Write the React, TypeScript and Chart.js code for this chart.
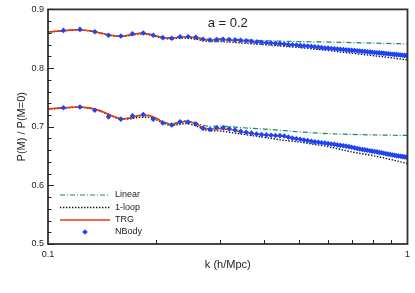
import { useEffect, useRef } from "react";
import { Chart, registerables } from "chart.js";

Chart.register(...registerables);

const FONT = "'Liberation Sans', Arial, sans-serif";
const TEXT = "#222222";

const TITLE = "a = 0.2";
const X_LABEL = "k (h/Mpc)";
const Y_LABEL = "P(M) / P(M=0)";

const X_TICKS = [0.1, 1];
const X_MINOR = [0.2, 0.3, 0.4, 0.5, 0.6, 0.7, 0.8, 0.9];
const Y_TICKS = [0.5, 0.6, 0.7, 0.8, 0.9];
const Y_MINOR = [0.52, 0.54, 0.56, 0.58, 0.62, 0.64, 0.66, 0.68, 0.72, 0.74, 0.76, 0.78, 0.82, 0.84, 0.86, 0.88];

// wavenumbers for the theory curves
const K_LINE = [0.10, 0.11, 0.12, 0.13, 0.14, 0.15, 0.16, 0.17, 0.18, 0.19, 0.20, 0.21, 0.22, 0.23, 0.24, 0.25, 0.26, 0.27, 0.28, 0.29, 0.30, 0.32, 0.35, 0.40, 0.45, 0.50, 0.55, 0.60, 0.70, 0.80, 0.90, 1.00];

// upper family
const LINEAR_HI = [0.8615, 0.8637, 0.8652, 0.8638, 0.8598, 0.8558, 0.8543, 0.8567, 0.8592, 0.8584, 0.8550, 0.8520, 0.8515, 0.8530, 0.8538, 0.8535, 0.8522, 0.8505, 0.8495, 0.8495, 0.8500, 0.8495, 0.8482, 0.8467, 0.8458, 0.8452, 0.8447, 0.8443, 0.8434, 0.8425, 0.8418, 0.8412];
const ONELOOP_HI = [0.8612, 0.8634, 0.8648, 0.8633, 0.8593, 0.8553, 0.8537, 0.8558, 0.8580, 0.8570, 0.8537, 0.8505, 0.8496, 0.8508, 0.8513, 0.8505, 0.8488, 0.8467, 0.8454, 0.8452, 0.8453, 0.8443, 0.8425, 0.8398, 0.8372, 0.8350, 0.8325, 0.8300, 0.8253, 0.8212, 0.8175, 0.8137];
const TRG_HI = [0.8615, 0.8637, 0.8652, 0.8638, 0.8598, 0.8558, 0.8543, 0.8567, 0.8592, 0.8582, 0.8547, 0.8515, 0.8508, 0.8523, 0.8530, 0.8524, 0.8508, 0.8488, 0.8476, 0.8477, 0.8482, 0.8475, 0.8460, 0.8432, 0.8405, 0.8382, 0.8358, 0.8333, 0.8295, 0.8262, 0.8232, 0.8205];

// lower family
const LINEAR_LO = [0.7305, 0.7322, 0.7337, 0.7322, 0.7272, 0.7192, 0.7137, 0.7152, 0.7192, 0.7195, 0.7148, 0.7082, 0.7050, 0.7075, 0.7100, 0.7092, 0.7060, 0.7025, 0.7008, 0.7008, 0.7012, 0.7000, 0.6982, 0.6960, 0.6935, 0.6912, 0.6895, 0.6882, 0.6868, 0.6860, 0.6855, 0.6850];
const ONELOOP_LO = [0.7298, 0.7316, 0.7330, 0.7314, 0.7264, 0.7184, 0.7128, 0.7135, 0.7162, 0.7160, 0.7118, 0.7058, 0.7020, 0.7035, 0.7052, 0.7040, 0.7005, 0.6960, 0.6935, 0.6930, 0.6928, 0.6905, 0.6868, 0.6818, 0.6770, 0.6740, 0.6700, 0.6660, 0.6570, 0.6508, 0.6440, 0.6370];
const TRG_LO = [0.7305, 0.7322, 0.7337, 0.7322, 0.7272, 0.7192, 0.7137, 0.7152, 0.7192, 0.7192, 0.7142, 0.7072, 0.7037, 0.7060, 0.7085, 0.7075, 0.7040, 0.6990, 0.6960, 0.6960, 0.6967, 0.6950, 0.6905, 0.6860, 0.6835, 0.6795, 0.6748, 0.6710, 0.6645, 0.6578, 0.6522, 0.6465];

// N-body measurements
const K_NBODY = [0.1104, 0.1227, 0.1350, 0.1473, 0.1595, 0.1718, 0.1841, 0.1963, 0.2086, 0.2209, 0.2331, 0.2454, 0.2577, 0.2699, 0.2822, 0.2945, 0.3068, 0.3191, 0.3313, 0.3436, 0.3559, 0.3682, 0.3804, 0.3927, 0.4050, 0.4172, 0.4295, 0.4418, 0.4540, 0.4663, 0.4786, 0.4909, 0.5031, 0.5154, 0.5277, 0.5400, 0.5522, 0.5645, 0.5768, 0.5890, 0.6013, 0.6136, 0.6259, 0.6381, 0.6504, 0.6627, 0.6750, 0.6872, 0.6995, 0.7118, 0.7240, 0.7363, 0.7486, 0.7609, 0.7731, 0.7854, 0.7977, 0.8099, 0.8222, 0.8345, 0.8468, 0.8590, 0.8713, 0.8836, 0.8959, 0.9081, 0.9204, 0.9327, 0.9450, 0.9572, 0.9695, 0.9818, 0.9940];
const NBODY_HI = [0.8642, 0.8659, 0.8618, 0.8558, 0.8546, 0.8585, 0.8597, 0.8558, 0.8518, 0.8508, 0.8534, 0.8534, 0.8524, 0.8491, 0.8479, 0.8484, 0.8491, 0.8488, 0.8480, 0.8474, 0.8466, 0.8455, 0.8445, 0.8440, 0.8432, 0.8428, 0.8420, 0.8417, 0.8410, 0.8402, 0.8398, 0.8392, 0.8386, 0.8380, 0.8376, 0.8369, 0.8362, 0.8357, 0.8350, 0.8343, 0.8340, 0.8334, 0.8330, 0.8325, 0.8320, 0.8316, 0.8310, 0.8306, 0.8302, 0.8298, 0.8294, 0.8290, 0.8285, 0.8281, 0.8278, 0.8273, 0.8270, 0.8266, 0.8262, 0.8259, 0.8255, 0.8251, 0.8248, 0.8245, 0.8240, 0.8236, 0.8233, 0.8229, 0.8226, 0.8222, 0.8219, 0.8216, 0.8212];
const NBODY_LO = [0.7324, 0.7336, 0.7281, 0.7168, 0.7129, 0.7185, 0.7207, 0.7129, 0.7062, 0.7029, 0.7084, 0.7079, 0.7045, 0.6971, 0.6955, 0.6983, 0.6983, 0.6965, 0.6945, 0.6920, 0.6905, 0.6890, 0.6875, 0.6868, 0.6860, 0.6855, 0.6850, 0.6847, 0.6842, 0.6822, 0.6805, 0.6795, 0.6785, 0.6772, 0.6762, 0.6752, 0.6742, 0.6735, 0.6726, 0.6720, 0.6712, 0.6705, 0.6698, 0.6690, 0.6682, 0.6675, 0.6668, 0.6660, 0.6650, 0.6640, 0.6628, 0.6620, 0.6612, 0.6605, 0.6598, 0.6590, 0.6583, 0.6578, 0.6570, 0.6562, 0.6555, 0.6548, 0.6540, 0.6532, 0.6525, 0.6518, 0.6512, 0.6505, 0.6500, 0.6495, 0.6490, 0.6485, 0.6480];

const LEGEND = ["Linear", "1-loop", "TRG", "NBody"];

const C_LINEAR = "#15895a";
const C_ONELOOP = "#111111";
const C_TRG = "#f2330f";
const C_NBODY = "#1d44f5";

const pts = (xs: number[], ys: number[]) => xs.map((x, i) => ({ x, y: ys[i] }));

const lineStyle = (label: string, color: string, dash: number[], width: number) => ({
  label,
  borderColor: color,
  backgroundColor: color,
  borderDash: dash,
  borderWidth: width,
  pointRadius: 0,
  showLine: true,
  fill: false,
  cubicInterpolationMode: "monotone" as const,
});

const decorPlugin = {
  id: "decor",
  afterDraw(chart: any) {
    const { ctx, chartArea: a, scales } = chart;
    const xs = scales.x;
    const ys = scales.y;
    ctx.save();
    // frame
    ctx.strokeStyle = "#333333";
    ctx.lineWidth = 1.8;
    ctx.setLineDash([]);
    ctx.strokeRect(a.left, a.top, a.right - a.left, a.bottom - a.top);
    // ticks (inward)
    ctx.lineWidth = 1;
    ctx.strokeStyle = "#222222";
    ctx.beginPath();
    X_MINOR.forEach((v) => {
      const px = Math.round(xs.getPixelForValue(v)) + 0.5;
      ctx.moveTo(px, a.bottom);
      ctx.lineTo(px, a.bottom - 4);
    });
    Y_TICKS.forEach((v) => {
      const py = Math.round(ys.getPixelForValue(v)) + 0.5;
      ctx.moveTo(a.left, py);
      ctx.lineTo(a.left + 6, py);
    });
    Y_MINOR.forEach((v) => {
      const py = Math.round(ys.getPixelForValue(v)) + 0.5;
      ctx.moveTo(a.left, py);
      ctx.lineTo(a.left + 3.5, py);
    });
    ctx.stroke();
    // title inside plot
    ctx.fillStyle = TEXT;
    ctx.font = `13px ${FONT}`;
    ctx.textAlign = "center";
    ctx.textBaseline = "middle";
    ctx.fillText(TITLE, (a.left + a.right) / 2, 23);
    // legend
    const x0 = a.left + 12;
    const x1 = a.left + 62;
    const rowY = [195, 207.5, 220, 232];
    ctx.font = `9px ${FONT}`;
    ctx.textAlign = "left";
    LEGEND.forEach((label, i) => {
      const ds = chart.data.datasets.find((d: any) => d.label === label);
      if (!ds) return;
      const y = rowY[i];
      if (ds.showLine === false) {
        const r = 2.8;
        const cx = (x0 + x1) / 2;
        ctx.fillStyle = ds.backgroundColor;
        ctx.beginPath();
        ctx.moveTo(cx, y - r);
        ctx.lineTo(cx + r, y);
        ctx.lineTo(cx, y + r);
        ctx.lineTo(cx - r, y);
        ctx.closePath();
        ctx.fill();
      } else {
        ctx.strokeStyle = ds.borderColor;
        ctx.lineWidth = ds.borderWidth;
        ctx.setLineDash(ds.borderDash || []);
        ctx.beginPath();
        ctx.moveTo(x0, y);
        ctx.lineTo(x1, y);
        ctx.stroke();
        ctx.setLineDash([]);
      }
      ctx.fillStyle = TEXT;
      ctx.textBaseline = "middle";
      ctx.fillText(label, x1 + 5, y);
    });
    ctx.restore();
  },
};

export default function App() {
  const ref = useRef<HTMLCanvasElement | null>(null);

  useEffect(() => {
    if (!ref.current) return;
    const nbodyStyle = (label: string, data: any) => ({
      label,
      data,
      showLine: false,
      pointStyle: "rectRot",
      pointRadius: 2.8,
      pointBorderWidth: 0,
      pointBackgroundColor: C_NBODY,
      backgroundColor: C_NBODY,
      borderColor: C_NBODY,
    });
    const chart = new Chart(ref.current, {
      type: "line",
      data: {
        datasets: [
          nbodyStyle("NBody", pts(K_NBODY, NBODY_HI)),
          nbodyStyle("NBody (low)", pts(K_NBODY, NBODY_LO)),
          { ...lineStyle("TRG", C_TRG, [], 1.5), data: pts(K_LINE, TRG_HI) },
          { ...lineStyle("TRG (low)", C_TRG, [], 1.5), data: pts(K_LINE, TRG_LO) },
          { ...lineStyle("1-loop", C_ONELOOP, [1.4, 1.6], 1.4), data: pts(K_LINE, ONELOOP_HI) },
          { ...lineStyle("1-loop (low)", C_ONELOOP, [1.4, 1.6], 1.4), data: pts(K_LINE, ONELOOP_LO) },
          { ...lineStyle("Linear", C_LINEAR, [5, 2, 1, 2], 1.2), data: pts(K_LINE, LINEAR_HI) },
          { ...lineStyle("Linear (low)", C_LINEAR, [5, 2, 1, 2], 1.2), data: pts(K_LINE, LINEAR_LO) },
        ] as any,
      },
      options: {
        animation: false,
        responsive: false,
        maintainAspectRatio: false,
        layout: { padding: { left: 0, right: 7, top: 6, bottom: 0 } },
        plugins: {
          legend: { display: false },
          title: { display: false },
          tooltip: { enabled: false },
        },
        scales: {
          x: {
            type: "logarithmic",
            min: 0.1,
            max: 1,
            afterBuildTicks: (s: any) => {
              s.ticks = X_TICKS.map((v) => ({ value: v }));
            },
            afterFit: (s: any) => {
              s.height = 49;
            },
            ticks: {
              autoSkip: false,
              maxRotation: 0,
              padding: 5,
              color: TEXT,
              font: { size: 9, family: FONT },
              callback: (v: any) => String(v),
            },
            grid: { display: false, drawTicks: false },
            border: { display: false },
            title: {
              display: true,
              text: X_LABEL,
              color: TEXT,
              font: { size: 11, family: FONT },
              padding: { top: 0, bottom: 21 },
            },
          },
          y: {
            type: "linear",
            min: 0.5,
            max: 0.9,
            afterBuildTicks: (s: any) => {
              s.ticks = Y_TICKS.map((v) => ({ value: v }));
            },
            afterFit: (s: any) => {
              s.width = 48;
            },
            ticks: {
              padding: 4,
              color: TEXT,
              font: { size: 9, family: FONT },
              callback: (v: any) => Number(v).toFixed(1),
            },
            grid: { display: false, drawTicks: false },
            border: { display: false },
            title: {
              display: true,
              text: Y_LABEL,
              color: TEXT,
              font: { size: 11, family: FONT },
              padding: { top: 15, bottom: 0 },
            },
          },
        },
      } as any,
      plugins: [decorPlugin],
    });
    return () => chart.destroy();
  }, []);

  return (
    <div style={{ position: "fixed", left: 0, top: 0, width: 415, height: 293, background: "#ffffff" }}>
      <canvas ref={ref} width={415} height={293} style={{ display: "block" }} />
    </div>
  );
}
